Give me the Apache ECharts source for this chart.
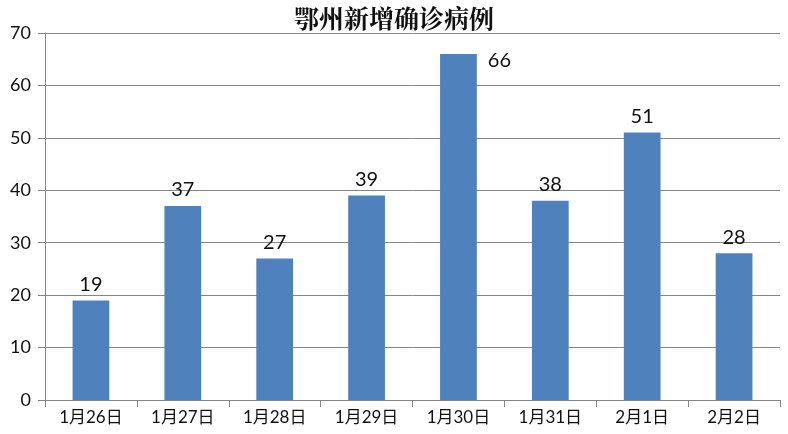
<!DOCTYPE html>
<html><head><meta charset="utf-8">
<script src="https://cdn.jsdelivr.net/npm/echarts@6/dist/echarts.min.js"></script>
<style>html,body{margin:0;padding:0;background:#fff}#c{width:788px;height:434px}</style>
</head><body><div id="c"></div>
<script>
const categories = ['1月26日','1月27日','1月28日','1月29日','1月30日','1月31日','2月1日','2月2日'];
const values = [19, 37, 27, 39, 66, 38, 51, 28];
const yTicks = [0, 10, 20, 30, 40, 50, 60, 70];

const chart = echarts.init(document.getElementById('c'));
const maxV = Math.max(...values);
chart.setOption({
  animation: false,
  title: {
    text: '鄂州新增确诊病例', left: 'center', top: 1,
    textStyle: {fontFamily: 'Noto Serif CJK SC, Noto Sans CJK SC', fontSize: 25, fontWeight: 'bold', color: '#111'}
  },
  grid: {left: 45, right: 8, top: 33, bottom: 34},
  xAxis: {
    type: 'category', data: categories,
    axisLine: {lineStyle: {color: '#868686'}},
    axisTick: {show: true, alignWithLabel: false, length: 7, lineStyle: {color: '#868686'}},
    axisLabel: {fontFamily: 'Lato, Noto Sans CJK SC', fontSize: 17, color: '#111', margin: 9}
  },
  yAxis: {
    type: 'value', min: yTicks[0], max: yTicks[yTicks.length - 1], interval: 10,
    axisLine: {show: true, lineStyle: {color: '#868686'}},
    axisTick: {show: true, length: 7, lineStyle: {color: '#868686'}},
    splitLine: {lineStyle: {color: '#868686'}},
    axisLabel: {fontFamily: 'Lato, sans-serif', fontSize: 18, color: '#111', margin: 14}
  },
  series: [{
    type: 'bar', barWidth: '40%',
    itemStyle: {color: '#4f81bd'},
    data: values.map(v => v === maxV ? {value: v, label: {position: ['130%', -3]}} : v),
    label: {show: true, position: 'top', distance: 6, fontSize: 20, color: '#111',
            fontFamily: 'Lato, sans-serif'}
  }]
});
</script></body></html>
